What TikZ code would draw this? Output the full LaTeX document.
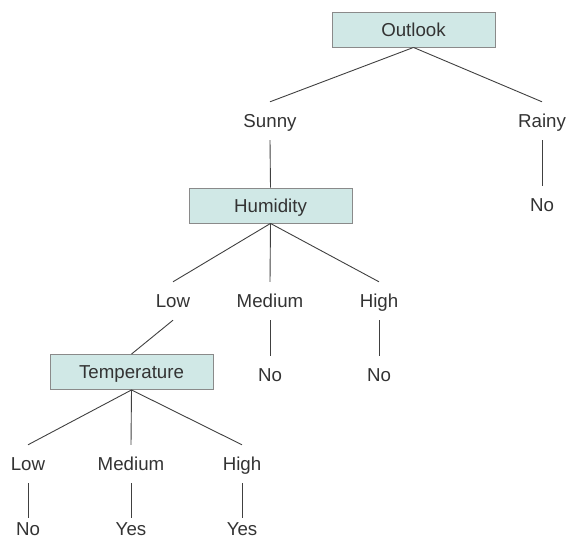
\documentclass[tikz,border=0pt]{standalone}
\usepackage{fontspec}
\setmainfont{Liberation Sans}
\definecolor{boxfill}{HTML}{D0E8E6}
\definecolor{boxdraw}{HTML}{8A8A8A}
\definecolor{txt}{HTML}{333333}
\definecolor{edge}{HTML}{404040}
\begin{document}
\begin{tikzpicture}[x=1pt,y=-1pt,
  every node/.style={font=\fontsize{18.7}{22}\selectfont, text=txt, text height=13.4pt, text depth=0pt},
  attrbox/.style={draw=boxdraw, fill=boxfill, line width=0.9pt, minimum width=163pt, minimum height=35pt, inner sep=0pt},
  valnode/.style={minimum height=38pt, inner sep=0pt},
  edgeline/.style={draw=edge, line width=0.9pt}]
\useasboundingbox (0,0) rectangle (567,540);
\node[attrbox] (outlook) at (413.5,29.5) {Outlook};
\node[valnode] (sunny) at (270,121) {Sunny};
\node[valnode] (rainy) at (542,121) {Rainy};
\node[valnode] (rainyno) at (542,205) {No};
\node[attrbox] (hum) at (270.5,205.5) {Humidity};
\node[valnode] (hlow) at (173,301) {Low};
\node[valnode] (hmed) at (270,301) {Medium};
\node[valnode] (hhigh) at (379,301) {High};
\node[valnode] (hmedno) at (270,375) {No};
\node[valnode] (hhighno) at (379,375) {No};
\node[attrbox] (temp) at (131.5,372) {Temperature};
\node[valnode] (tlow) at (28,464) {Low};
\node[valnode] (tmed) at (131,464) {Medium};
\node[valnode] (thigh) at (242,464) {High};
\node[valnode] (tlowno) at (28,529) {No};
\node[valnode] (tmedyes) at (131,529) {Yes};
\node[valnode] (thighyes) at (242,529) {Yes};
\draw[edgeline] (outlook.south) -- (sunny.north);
\draw[edgeline] (outlook.south) -- (rainy.north);
\draw[edgeline] (sunny.south) -- (hum.north);
\draw[edgeline] (rainy.south) -- (rainyno.north);
\draw[edgeline] (hum.south) -- (hlow.north);
\draw[edgeline] (hum.south) -- (hmed.north);
\draw[edgeline] (hum.south) -- (hhigh.north);
\draw[edgeline] (hmed.south) -- (hmedno.north);
\draw[edgeline] (hhigh.south) -- (hhighno.north);
\draw[edgeline] (hlow.south) -- (temp.north);
\draw[edgeline] (temp.south) -- (tlow.north);
\draw[edgeline] (temp.south) -- (tmed.north);
\draw[edgeline] (temp.south) -- (thigh.north);
\draw[edgeline] (tlow.south) -- ([yshift=-8pt]tlowno.north);
\draw[edgeline] (tmed.south) -- ([yshift=-8pt]tmedyes.north);
\draw[edgeline] (thigh.south) -- ([yshift=-8pt]thighyes.north);
\end{tikzpicture}
\end{document}
